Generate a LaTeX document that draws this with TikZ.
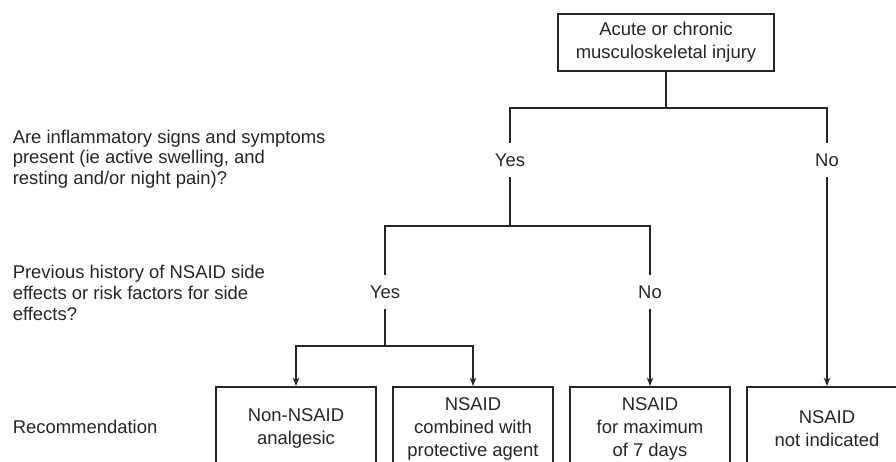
\documentclass[tikz,border=0pt]{standalone}
\usepackage{fontspec}
\setmainfont{Liberation Sans}
\usetikzlibrary{positioning}
\usetikzlibrary{arrows.meta}

\begin{document}
\begin{tikzpicture}[x=0.02cm, y=-0.02cm,
		line width=0.9pt,
		color=black!85,
		every node/.style={font=\fontsize{10.5}{13}\selectfont},
		box/.style={draw, align=center, anchor=north, inner sep=0pt,
			minimum width=3.2cm, minimum height=1.68cm},
		answer/.style={inner sep=0.2cm},
		question/.style={align=left, anchor=west, inner sep=0pt,
			font=\fontsize{10.5}{11.8}\selectfont},
		arrow/.style={-{Stealth[length=1.7mm, width=1.3mm]}}]
		\useasboundingbox (0,0) rectangle (896,462);

		\node [draw, align=center, minimum width=4.32cm, minimum height=1.14cm] (injury) at (666,42.5) {Acute or chronic\\musculoskeletal injury};

		\node [question] (inflam) at (12,159) {Are inflammatory signs and symptoms\\present (ie active swelling, and\\resting and/or night pain)?};
		\node [question] (history) at (12,293) {Previous history of NSAID side\\effects or risk factors for side\\effects?};
		\node [question] (recommend) at (12,427) {Recommendation};

		\node [answer] (yes1) at (510,160) {Yes};
		\node [answer] (no1) at (827,160) {No};
		\node [answer] (yes2) at (385,292) {Yes};
		\node [answer] (no2) at (650,292) {No};

		\node [box] (nonnsaid) at (296,386) {Non-NSAID\\analgesic};
		\node [box] (combined) at (473,386) {NSAID\\combined with\\protective agent};
		\node [box] (sevendays) at (650,386) {NSAID\\for maximum\\of 7 days};
		\node [box] (notindicated) at (827,386) {NSAID\\not indicated};

		\coordinate (split1) at (666,108);
		\coordinate (split2) at (510,226);
		\coordinate (split3) at (385,346);

		\draw (injury) -- (split1);
		\draw (yes1) -- (yes1 |- split1) -- (no1 |- split1) -- (no1);
		\draw (yes1) -- (split2);
		\draw (yes2) -- (yes2 |- split2) -- (no2 |- split2) -- (no2);
		\draw (yes2) -- (split3);
		\draw [arrow] (split3) -| (nonnsaid);
		\draw [arrow] (split3) -| (combined);
		\draw [arrow] (no2) -- (sevendays);
		\draw [arrow] (no1) -- (notindicated);
\end{tikzpicture}
\end{document}
